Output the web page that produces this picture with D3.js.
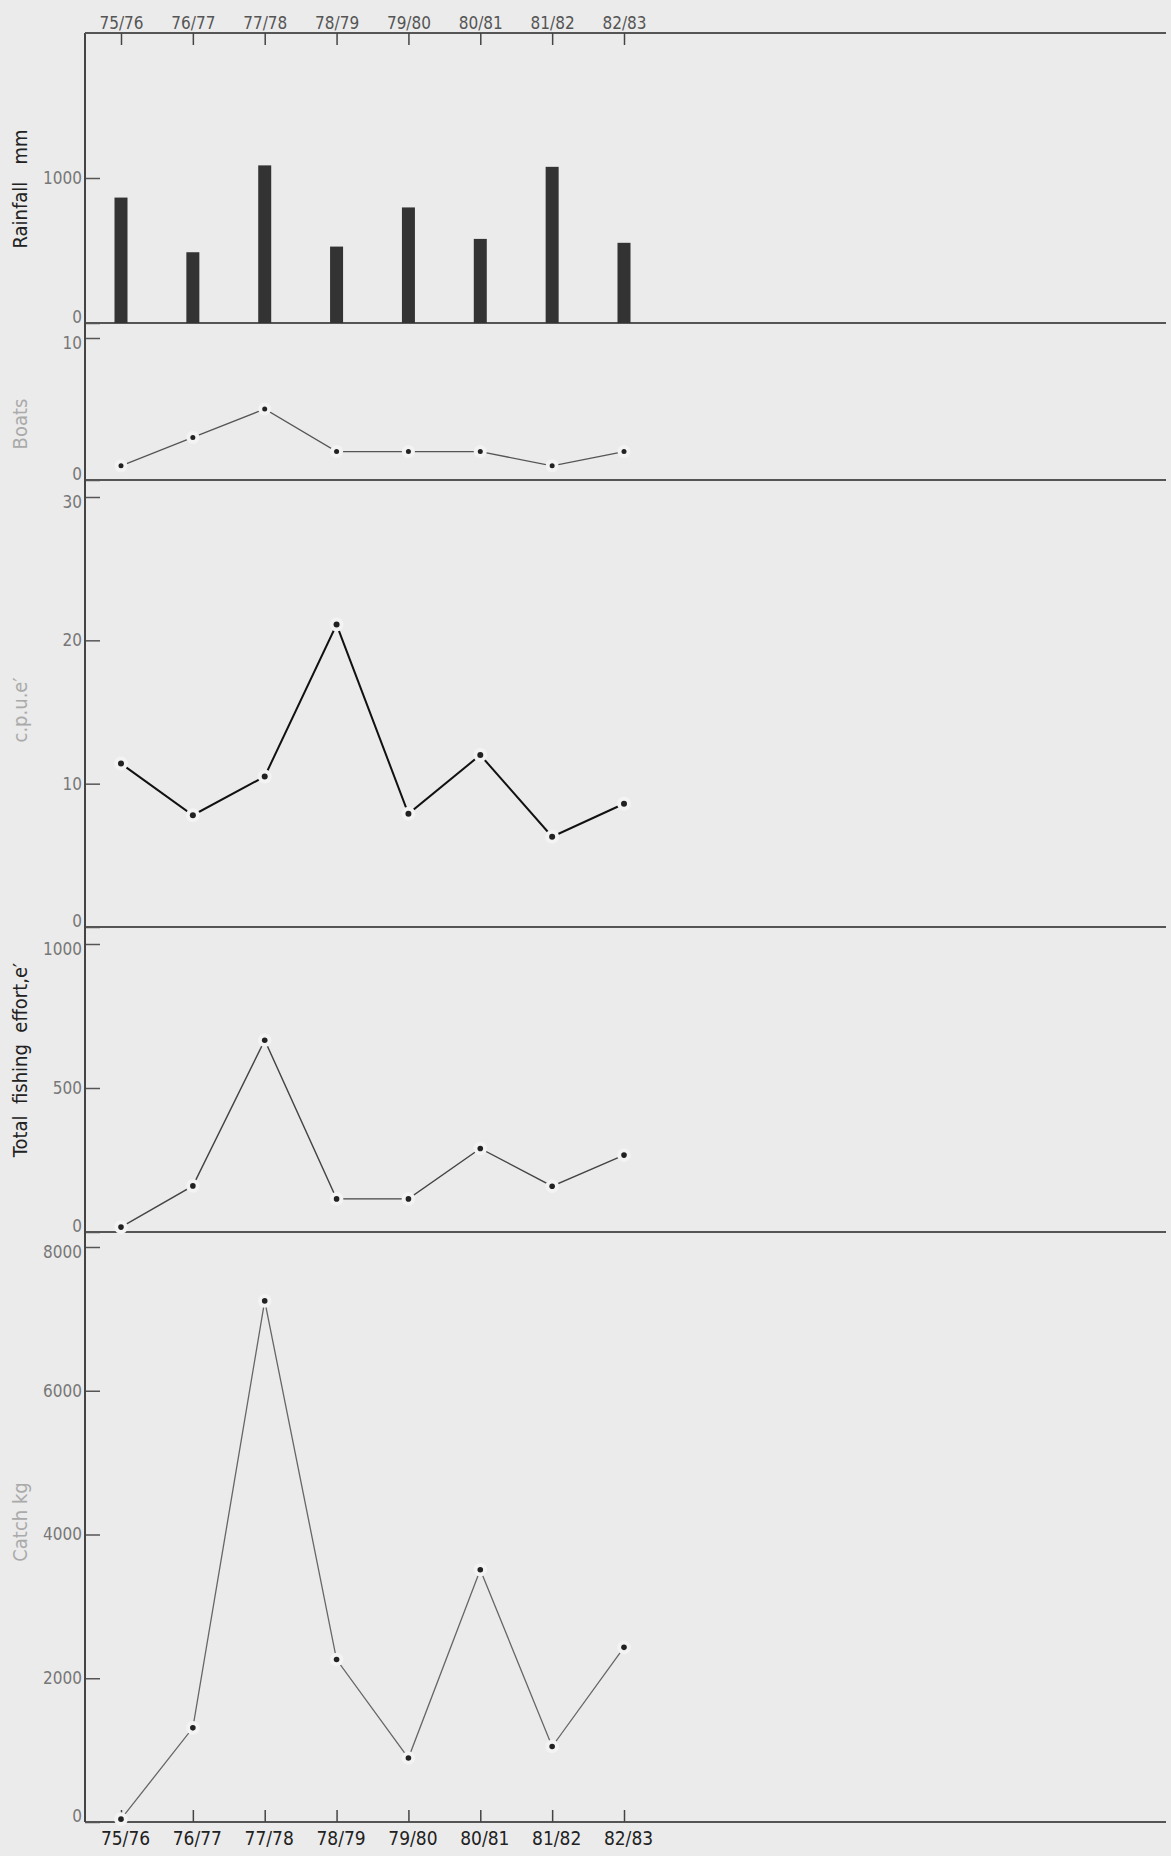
<!DOCTYPE html>
<html lang="en">

<head>
    <meta charset="UTF-8">
    <title>Rainfall, boats, c.p.u.e., effort and catch 75/76 - 82/83</title>
    <style>
        body {
            margin: 0;
            padding: 0;
            background: #ebebeb;
        }

        svg {
            display: block;
        }

        .tick text {
            font-family: "DejaVu Sans Condensed", "DejaVu Sans", sans-serif;
        }

        .ylab {
            font-family: "DejaVu Sans Condensed", "DejaVu Sans", sans-serif;
            font-size: 20px;
            text-anchor: middle;
        }
    </style>
</head>

<body>
    <svg></svg>

    <script src="https://d3js.org/d3.v7.min.js"></script>
    <script>
        const width = 1171;
        const height = 1856;

        const svg = d3.select("svg")
            .attr("width", width)
            .attr("height", height);

        // Seasons
        const seasons = ["75/76", "76/77", "77/78", "78/79", "79/80", "80/81", "81/82", "82/83"];

        // Series
        const rainfall = [865, 488, 1087, 527, 797, 580, 1077, 553];
        const boats = [1, 3, 5, 2, 2, 2, 1, 2];
        const cpue = [11.4, 7.8, 10.5, 21.1, 7.9, 12.0, 6.3, 8.6];
        const effort = [17, 160, 666, 115, 115, 290, 159, 267];
        const catchKg = [40, 1310, 7250, 2260, 890, 3510, 1050, 2430];

        // Tick labels per panel
        const rainTicks = [0, 1000];
        const boatTicks = [0, 10];
        const cpueTicks = [0, 10, 20, 30];
        const effortTicks = [0, 500, 1000];
        const catchTicks = [0, 2000, 4000, 6000, 8000];

        const left = 85;
        const right = 1166;

        const x = d3.scalePoint()
            .domain(seasons)
            .range([121, 624]);

        // Panel layout (top = pixel of max value, bottom = zero line)
        const panels = [
            { name: "rain", max: 2000, top: 33, bottom: 323, ticks: rainTicks },
            { name: "boats", max: 10, top: 338, bottom: 480, ticks: boatTicks },
            { name: "cpue", max: 30, top: 497, bottom: 927, ticks: cpueTicks },
            { name: "effort", max: 1000, top: 944, bottom: 1232, ticks: effortTicks },
            { name: "catch", max: 8000, top: 1247, bottom: 1822, ticks: catchTicks }
        ];

        panels.forEach(p => {
            p.y = d3.scaleLinear().domain([0, p.max]).range([p.bottom, p.top]);

            const ax = svg.append("g")
                .attr("transform", `translate(${left},0)`)
                .call(d3.axisLeft(p.y).tickValues(p.ticks).tickSize(-15).tickPadding(3).tickFormat(d3.format("d")));
            ax.select(".domain").remove();
            ax.selectAll(".tick line").attr("stroke", "#555").attr("stroke-width", 1.5);
            ax.selectAll(".tick text").attr("font-size", 17).attr("fill", "#777")
                // zero sits just above the baseline, the top value just below its tick
                .attr("dy", d => d === 0 ? "-0.05em" : (d === p.max ? "0.62em" : "0.32em"));

            // zero line of the panel
            svg.append("line")
                .attr("x1", left).attr("x2", right)
                .attr("y1", p.bottom).attr("y2", p.bottom)
                .attr("stroke", "#555").attr("stroke-width", 2);
        });

        // continuous y axis line
        svg.append("line")
            .attr("x1", left).attr("x2", left)
            .attr("y1", 33).attr("y2", 1822)
            .attr("stroke", "#444").attr("stroke-width", 2);

        // top axis
        const topAx = svg.append("g")
            .attr("transform", "translate(0,33)")
            .call(d3.axisTop(x).tickSize(-12).tickPadding(4));
        topAx.select(".domain")
            .attr("d", `M${left},0H${right}`)
            .attr("stroke", "#555").attr("stroke-width", 2);
        topAx.selectAll(".tick line").attr("stroke", "#444").attr("stroke-width", 1.5);
        topAx.selectAll(".tick text").attr("font-size", 17).attr("fill", "#555");

        // bottom axis
        const botAx = svg.append("g")
            .attr("transform", "translate(0,1822)")
            .call(d3.axisBottom(x).tickSize(-12).tickPadding(10));
        botAx.select(".domain").remove();
        botAx.selectAll(".tick line").attr("stroke", "#444").attr("stroke-width", 1.5);
        botAx.selectAll(".tick text").attr("font-size", 19).attr("fill", "#222")
            .attr("dx", 4);

        // Rainfall bars
        const rainY = panels[0].y;
        svg.selectAll(".bar")
            .data(rainfall)
            .enter()
            .append("rect")
            .attr("class", "bar")
            .attr("x", (d, i) => x(seasons[i]) - 6.5)
            .attr("width", 13)
            .attr("y", d => rainY(d))
            .attr("height", d => rainY(0) - rainY(d))
            .attr("fill", "#333");

        // line panels
        function drawSeries(values, yScale, lineColor, lineWidth, dotR) {
            const pts = values.map((v, i) => [x(seasons[i]), yScale(v)]);
            const g = svg.append("g");
            g.append("path")
                .attr("d", d3.line()(pts))
                .attr("fill", "none")
                .attr("stroke", lineColor)
                .attr("stroke-width", lineWidth);
            // small light halo where the line meets the dot
            g.selectAll(".halo")
                .data(pts)
                .enter()
                .append("circle")
                .attr("cx", d => d[0]).attr("cy", d => d[1])
                .attr("r", dotR + 4)
                .attr("fill", "#f3f3f3");
            g.selectAll(".dot")
                .data(pts)
                .enter()
                .append("circle")
                .attr("cx", d => d[0]).attr("cy", d => d[1])
                .attr("r", dotR)
                .attr("fill", "#222");
        }

        drawSeries(boats, panels[1].y, "#555", 1.3, 2.5);
        drawSeries(cpue, panels[2].y, "#111", 2, 3);
        drawSeries(effort, panels[3].y, "#444", 1.4, 2.8);
        drawSeries(catchKg, panels[4].y, "#666", 1.3, 2.8);

        // y axis titles
        const titles = [
            { text: "Rainfall\u00a0\u00a0 mm", y: 189, color: "#222" },
            { text: "Boats", y: 424, color: "#aaa" },
            { text: "c.p.u.e\u2032", y: 710, color: "#aaa" },
            { text: "Total\u00a0 fishing\u00a0 effort,e\u2032", y: 1060, color: "#222" },
            { text: "Catch\u00a0kg", y: 1522, color: "#aaa" }
        ];
        svg.selectAll(".ylab")
            .data(titles)
            .enter()
            .append("text")
            .attr("class", "ylab")
            .attr("transform", d => `translate(27,${d.y}) rotate(-90)`)
            .attr("fill", d => d.color)
            .text(d => d.text);
    </script>
</body>

</html>
